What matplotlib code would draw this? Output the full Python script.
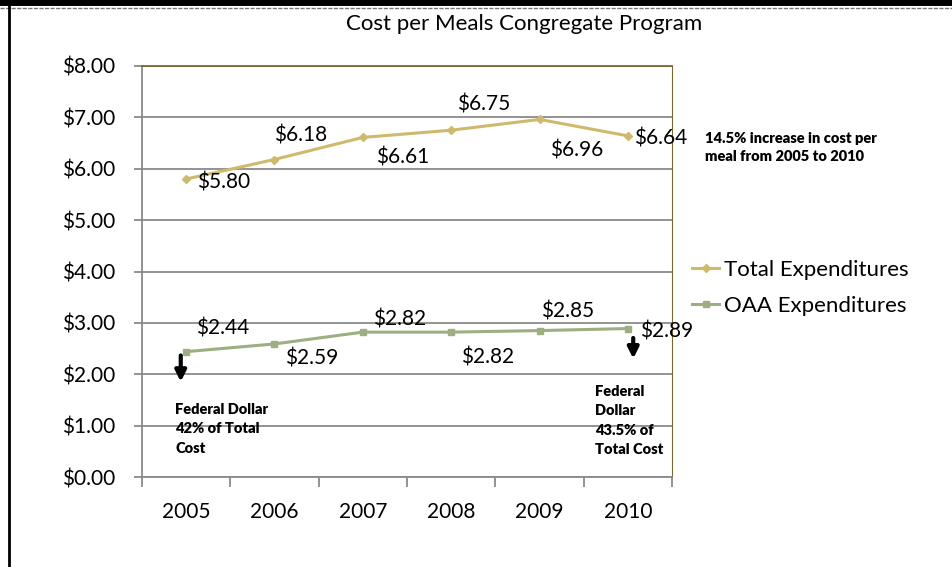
import matplotlib.pyplot as plt
from matplotlib.lines import Line2D

plt.rcParams['font.family'] = ['Lato', 'DejaVu Sans']

years = ['2005', '2006', '2007', '2008', '2009', '2010']
total_exp = [5.80, 6.18, 6.61, 6.75, 6.96, 6.64]
oaa_exp = [2.44, 2.59, 2.82, 2.82, 2.85, 2.89]

# label offsets in pixels (dx, dy) so the labels zig-zag around the lines
total_offsets = [(38, -3), (26, 24), (40, -20), (32, 26), (37, -31), (33, -3)]
oaa_offsets = [(37, 23), (37, -15), (37, 13), (36, -25), (28, 19), (39, -3)]

gold = '#cfba6c'
green = '#9daf80'
olive = '#7a6a2a'
grey = '#8a8a8a'

fig = plt.figure(figsize=(9.52, 5.67), dpi=100)
ax = fig.add_axes([0.149, 0.1587, 0.557, 0.7249])

x = list(range(len(years)))
ax.plot(x, total_exp, color=gold, lw=2.2, marker='D', ms=4, label='Total Expenditures')
ax.plot(x, oaa_exp, color=green, lw=2.2, marker='s', ms=5, label='OAA Expenditures')

for xi, v, (dx, dy) in zip(x, total_exp, total_offsets):
    ax.annotate('$%.2f' % v, (xi, v), xytext=(dx, dy), textcoords='offset pixels',
                ha='center', va='center', fontsize=15)
for xi, v, (dx, dy) in zip(x, oaa_exp, oaa_offsets):
    ax.annotate('$%.2f' % v, (xi, v), xytext=(dx, dy), textcoords='offset pixels',
                ha='center', va='center', fontsize=15)

ax.set_xlim(-0.5, 5.5)
ax.set_ylim(0, 8)
ax.set_yticks(range(0, 9))
ax.set_yticklabels(['$%.2f' % v for v in range(0, 9)], fontsize=15)
ax.yaxis.grid(True, color=grey, lw=1.3)
ax.set_axisbelow(True)

# category boundaries get the tick marks, year names sit between them
ax.set_xticks([i - 0.5 for i in range(len(years) + 1)])
ax.set_xticklabels([])
ax.set_xticks(x, minor=True)
ax.set_xticklabels(years, minor=True, fontsize=15)
ax.tick_params(axis='x', which='minor', length=0, pad=18)
ax.tick_params(axis='x', which='major', length=7, color=grey, width=1.3)
ax.tick_params(axis='y', length=6, color=grey, width=1.3, pad=13)

ax.spines['left'].set_color(grey)
ax.spines['bottom'].set_color(grey)
ax.spines['left'].set_linewidth(1.3)
ax.spines['bottom'].set_linewidth(1.3)
ax.spines['top'].set_color(olive)
ax.spines['right'].set_color(olive)
ax.spines['top'].set_linewidth(1.3)

# federal share arrows and notes
ax.annotate('', xy=(-0.06, 1.8), xytext=(-0.06, 2.42),
            arrowprops=dict(arrowstyle='-|>', color='black', lw=3, mutation_scale=16))
ax.annotate('', xy=(5.06, 2.25), xytext=(5.06, 2.76),
            arrowprops=dict(arrowstyle='-|>', color='black', lw=3, mutation_scale=16))
ax.text(-0.12, 1.45, 'Federal Dollar\n42% of Total\nCost', fontsize=10.5,
        fontweight='heavy', va='top', ha='left', linespacing=1.6)
ax.text(4.63, 1.8, 'Federal\nDollar\n43.5% of\nTotal Cost', fontsize=10.5,
        fontweight='heavy', va='top', ha='left', linespacing=1.6)

fig.text(0.741, 0.768, '14.5% increase in cost per\nmeal from 2005 to 2010',
         fontsize=10.5, fontweight='heavy', va='top', ha='left', linespacing=1.5)

fig.text(0.551, 0.958, 'Cost per Meals Congregate Program', fontsize=16,
         ha='center', va='center')

fig.legend(handles=ax.get_lines(), loc='upper left', bbox_to_anchor=(0.718, 0.558),
           frameon=False, fontsize=16, handlelength=1.2, handletextpad=0.2,
           labelspacing=0.75, borderaxespad=0)

# outer frame: thick top bar, dashed rule below it, left edge
fig.add_artist(Line2D([0, 1], [0.996, 0.996], color='black', lw=5, transform=fig.transFigure))
fig.add_artist(Line2D([0, 1], [0.986, 0.986], color='#777777', lw=1, ls=(0, (3, 1)),
                      transform=fig.transFigure))
fig.add_artist(Line2D([0.0095, 0.0095], [0, 1], color='black', lw=2, transform=fig.transFigure))

fig.savefig('out.png', dpi=100)
